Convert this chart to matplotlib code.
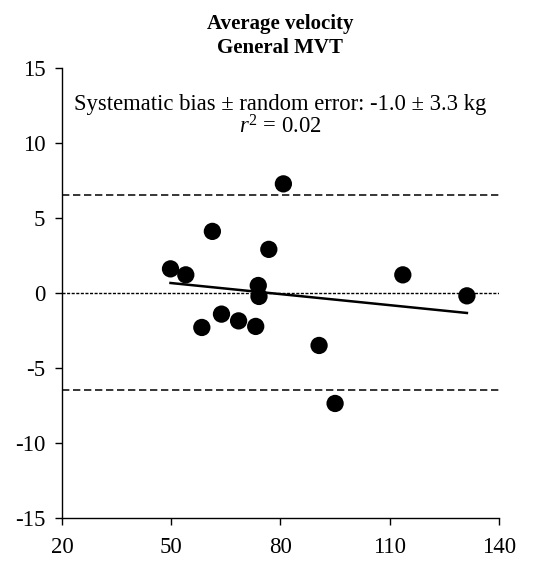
import numpy as np
import matplotlib
matplotlib.use("Agg")
import matplotlib.pyplot as plt

# data (mean of methods vs difference)
mean_vals = [49.8, 54.0, 61.3, 76.8, 80.8, 73.9, 74.1, 58.4, 63.8, 68.5, 73.2, 90.6, 95.0, 113.6, 131.2]
diff_vals = [1.6, 1.2, 4.1, 2.9, 7.27, 0.49, -0.24, -2.31, -1.42, -1.87, -2.24, -3.51, -7.38, 1.2, -0.2]
upper_loa = 6.5
lower_loa = -6.5
x_ticks = [20, 50, 80, 110, 140]
y_ticks = [-15, -10, -5, 0, 5, 10, 15]
title_text = "Average velocity\nGeneral MVT"
bias_text = "Systematic bias ± random error: -1.0 ± 3.3 kg"
r2_text = r"$r^2$ = 0.02"

plt.rcParams['font.family'] = ['Liberation Serif', 'DejaVu Serif']
plt.rcParams['mathtext.fontset'] = 'custom'
plt.rcParams['mathtext.it'] = 'Liberation Serif:italic'
plt.rcParams['mathtext.rm'] = 'Liberation Serif'
plt.rcParams['axes.unicode_minus'] = False

fig = plt.figure(figsize=(5.55, 5.61), dpi=100)
ax = fig.add_axes([0.1117, 0.0772, 0.7873, 0.8016])

x = np.array(mean_vals)
y = np.array(diff_vals)

ax.axhline(upper_loa, color='black', linestyle=(0, (4.8, 2.4)), linewidth=1.1)
ax.axhline(lower_loa, color='black', linestyle=(0, (4.8, 2.4)), linewidth=1.1)
ax.axhline(0, color='black', linestyle=(0, (2.2, 1.1)), linewidth=1.0)

slope, intercept = np.polyfit(x, y, 1)
xs = np.array([x.min(), x.max()])
ax.plot(xs, slope * xs + intercept, color='black', linewidth=1.8, zorder=3)

ax.scatter(x, y, s=155, color='black', zorder=4, edgecolors='none')

ax.set_xlim(20, 140)
ax.set_ylim(-15, 15)
ax.set_xticks(x_ticks)
ax.set_yticks(y_ticks)
ax.tick_params(axis='both', labelsize=16.5, direction='out', length=5, width=1)
ax.tick_params(axis='y', pad=7)
ax.tick_params(axis='x', pad=9)
for side in ['top', 'right']:
    ax.spines[side].set_visible(False)
for side in ['left', 'bottom']:
    ax.spines[side].set_linewidth(1)

ax.set_title(title_text, fontsize=15, fontweight='bold', pad=11, linespacing=1.25)
ax.text(0.5, 0.918, bias_text, transform=ax.transAxes, ha='center', va='center', fontsize=16.3)
ax.text(0.5, 0.87, r2_text, transform=ax.transAxes, ha='center', va='center', fontsize=16.3)

fig.savefig("out.png", dpi=100)
